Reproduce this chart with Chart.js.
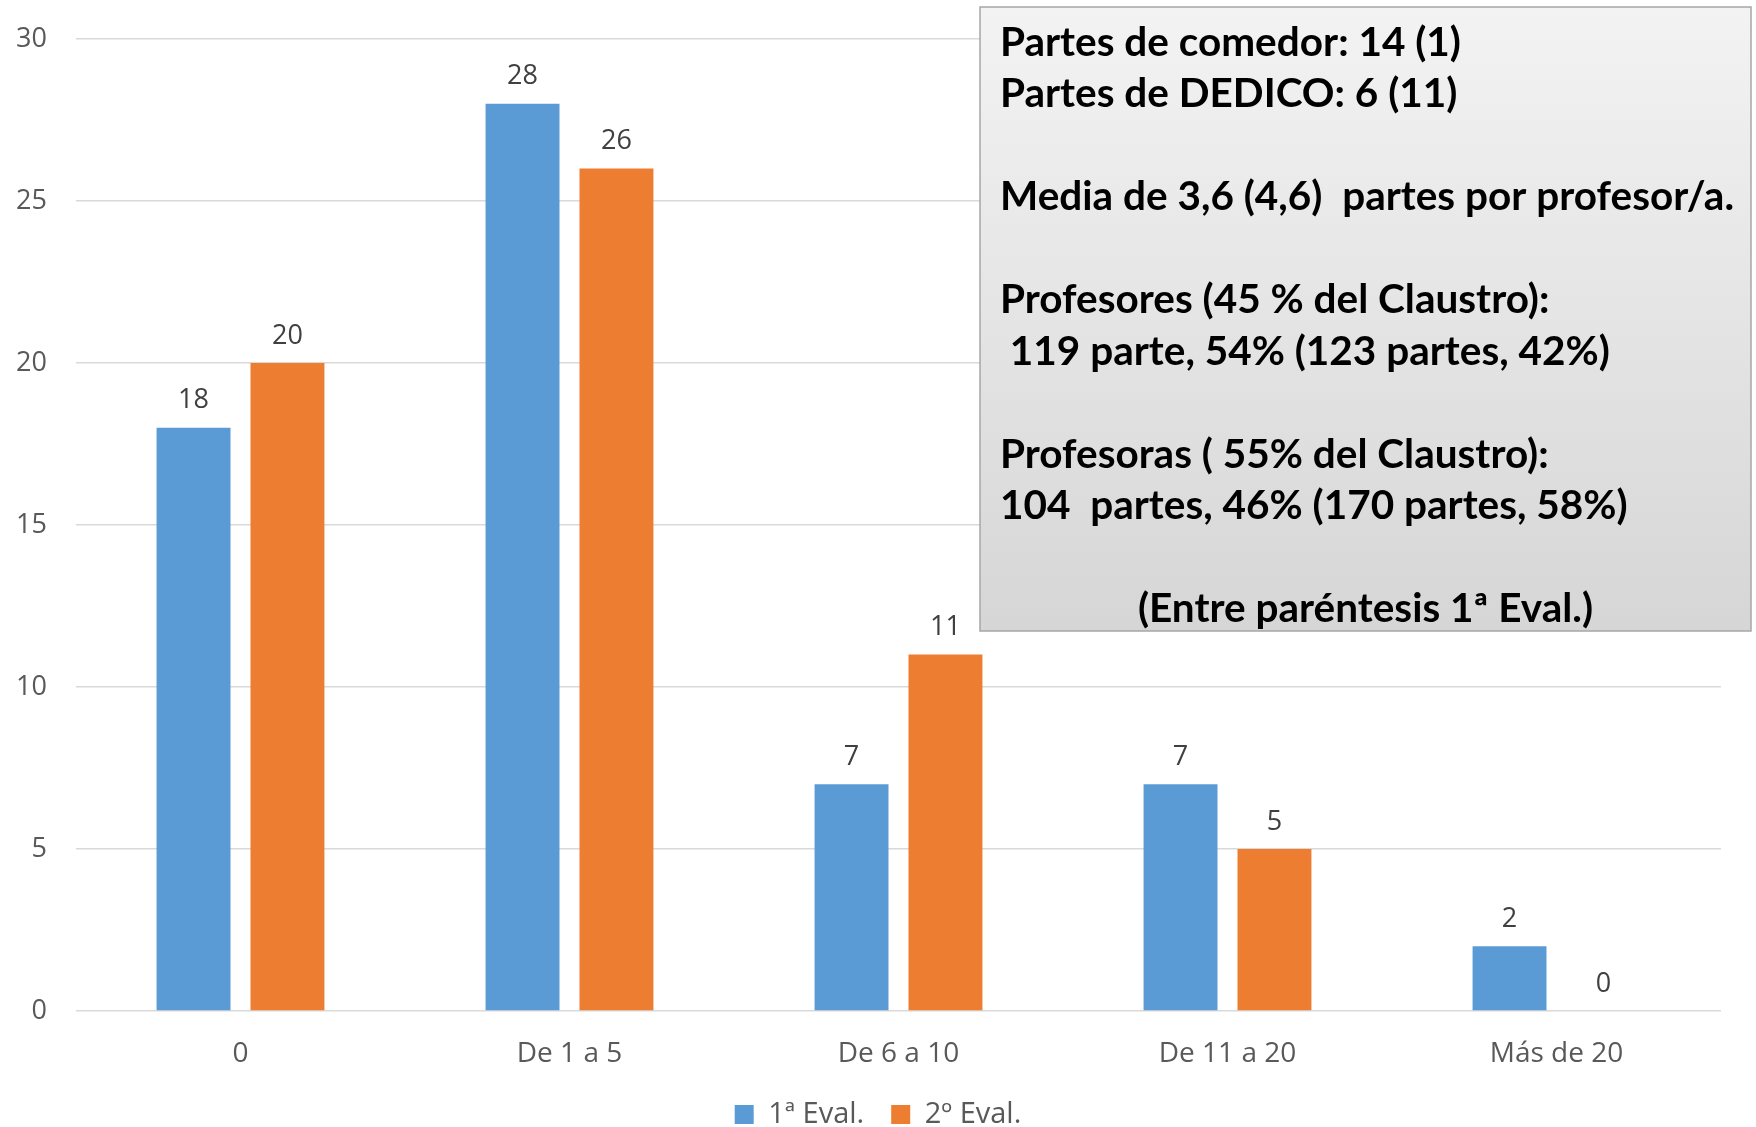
<!DOCTYPE html>
<html>
<head>
<meta charset="utf-8">
<script src="https://cdn.jsdelivr.net/npm/chart.js@4.4.1/dist/chart.umd.min.js"></script>
<style>
  html, body { margin: 0; padding: 0; background: #fff; }
  canvas { display: block; }
</style>
</head>
<body>
<canvas id="partesChart" width="1756" height="1127"></canvas>
<script>
const categories = ['0', 'De 1 a 5', 'De 6 a 10', 'De 11 a 20', 'Más de 20'];
const eval1 = [18, 28, 7, 7, 2];
const eval2 = [20, 26, 11, 5, 0];
const seriesNames = ['1ª Eval.', '2º Eval.'];
const boxLines = [
  'Partes de comedor: 14 (1)',
  'Partes de DEDICO: 6 (11)',
  '',
  'Media de 3,6 (4,6)  partes por profesor/a.',
  '',
  'Profesores (45 % del Claustro):',
  ' 119 parte, 54% (123 partes, 42%)',
  '',
  'Profesoras ( 55% del Claustro):',
  '104  partes, 46% (170 partes, 58%)',
  '',
  '(Entre paréntesis 1ª Eval.)'
];

const baseFont = '"Open Sans", "Noto Sans", sans-serif';

// value labels above each bar
const barLabels = {
  id: 'barLabels',
  afterDatasetsDraw(chart) {
    const ctx = chart.ctx;
    ctx.save();
    ctx.font = '27px ' + baseFont;
    ctx.fillStyle = '#404040';
    ctx.textAlign = 'center';
    ctx.textBaseline = 'middle';
    chart.data.datasets.forEach((ds, i) => {
      chart.getDatasetMeta(i).data.forEach((bar, j) => {
        ctx.fillText(ds.data[j], bar.x, bar.y - 27);
      });
    });
    ctx.restore();
  }
};

// grey note box in the top right corner
const noteBox = {
  id: 'noteBox',
  afterDraw(chart) {
    const ctx = chart.ctx;
    const x = 980, y = 7, w = 771, h = 624;
    ctx.save();
    const g = ctx.createLinearGradient(0, y, 0, y + h);
    g.addColorStop(0, '#f3f3f3');
    g.addColorStop(1, '#d6d6d6');
    ctx.fillStyle = g;
    ctx.fillRect(x, y, w, h);
    ctx.strokeStyle = '#a6a6a6';
    ctx.lineWidth = 1.5;
    ctx.strokeRect(x, y, w, h);

    ctx.font = 'bold 40px Lato, "Open Sans", sans-serif';
    const widest = ctx.measureText(boxLines[3]).width;
    const sx = 734 / widest;
    ctx.fillStyle = '#000';
    ctx.textBaseline = 'middle';
    boxLines.forEach((line, i) => {
      if (!line) return;
      const cy = 43 + 51.5 * i;
      ctx.save();
      if (i === boxLines.length - 1) {
        const lw = ctx.measureText(line).width * sx;
        ctx.translate(x + w / 2 - lw / 2, cy);
      } else {
        ctx.translate(1000, cy);
      }
      ctx.scale(sx, 1);
      ctx.fillText(line, 0, 0);
      ctx.restore();
    });
    ctx.restore();
  }
};

new Chart(document.getElementById('partesChart'), {
  type: 'bar',
  data: {
    labels: categories,
    datasets: [
      { label: seriesNames[0], data: eval1, backgroundColor: '#5B9BD5' },
      { label: seriesNames[1], data: eval2, backgroundColor: '#ED7D31' }
    ]
  },
  options: {
    responsive: false,
    devicePixelRatio: 1,
    animation: false,
    categoryPercentage: 0.571,
    barPercentage: 0.787,
    layout: { padding: { top: 39, right: 0, bottom: -12, left: 0 } },
    scales: {
      y: {
        min: 0,
        max: 30,
        ticks: { stepSize: 5, color: '#595959', font: { size: 27, family: baseFont }, padding: 29 },
        grid: { color: '#d9d9d9', lineWidth: 1.5, drawTicks: false },
        border: { display: false },
        afterFit(scale) {
          scale.width = 76;
          scale.paddingTop = 0;
          scale.paddingBottom = 0;
        }
      },
      // empty right margin so the legend stays centred on the page
      yRight: {
        type: 'linear',
        position: 'right',
        ticks: { display: false },
        grid: { display: false, drawTicks: false },
        border: { display: false },
        afterFit(scale) {
          scale.width = 35;
          scale.paddingTop = 0;
          scale.paddingBottom = 0;
        }
      },
      x: {
        ticks: { color: '#595959', font: { size: 28, family: baseFont }, padding: 26 },
        grid: { display: false, drawTicks: false },
        border: { display: false },
        afterFit(scale) { scale.height = 62; }
      }
    },
    plugins: {
      legend: {
        position: 'bottom',
        labels: {
          boxWidth: 19,
          boxHeight: 19,
          padding: 27,
          color: '#595959',
          font: { size: 29, family: baseFont }
        }
      },
      tooltip: { enabled: false }
    }
  },
  plugins: [barLabels, noteBox]
});
</script>
</body>
</html>
